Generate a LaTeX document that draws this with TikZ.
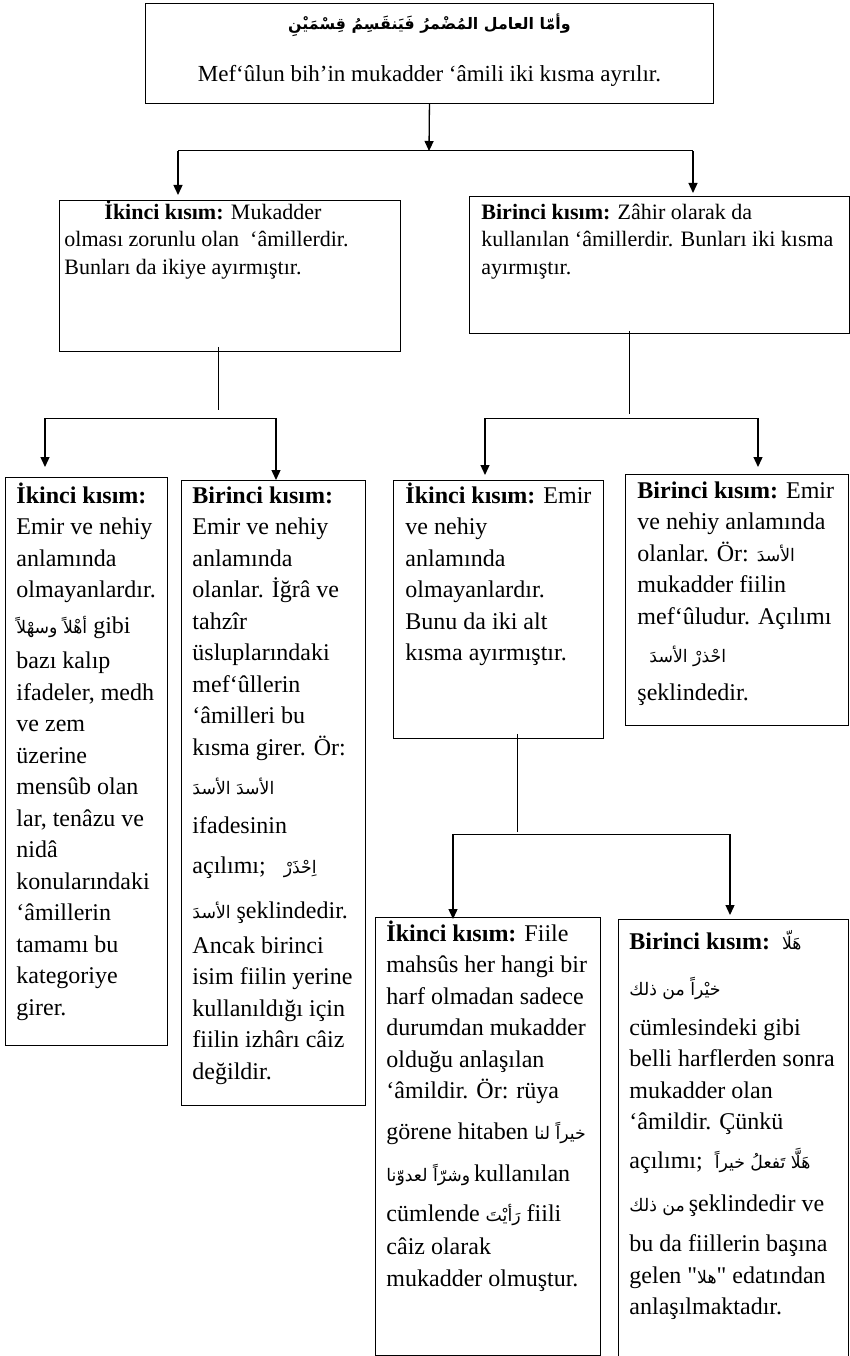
\documentclass[tikz,border=0pt]{standalone}
\usepackage{fontspec}
\setmainfont{Liberation Serif}
\newfontfamily\plainserif{Liberation Serif}
\newfontfamily\arfont[Script=Arabic,Scale=0.72]{DejaVu Sans}
\TeXXeTstate=1
\usetikzlibrary{arrows.meta,calc}
\newcommand{\AR}[1]{\mbox{\arfont\beginR #1\endR}}
\newcommand{\kb}[1]{\textbf{#1}}
\newcommand{\dq}{{\plainserif\symbol{34}}}
\newcommand{\bigtxt}{\fontsize{24}{31.5}\selectfont\lineskiplimit=-100pt\lineskip=0pt\raggedright\hbadness=10000\hfuzz=100pt}
\newcommand{\midtxt}{\fontsize{22}{27.5}\selectfont\lineskiplimit=-100pt\lineskip=0pt\raggedright\hbadness=10000\hfuzz=100pt}
\newcommand{\mybox}[7]{\node[box, inner xsep=#6pt] (#1) at (#2,#3) {\parbox[c][#5pt][t]{\dimexpr#4pt-#6pt-#6pt\relax}{#7}};}
\tikzset{
  box/.style={draw, line width=0.9pt, inner ysep=0pt, anchor=north west},
  ln/.style={line width=1pt},
  arr/.style={line width=1.3pt, -{Triangle[width=9pt,length=10pt]}}
}
\begin{document}
\begin{tikzpicture}[x=1pt,y=-1pt]
\useasboundingbox (0,0) rectangle (850,1356);

\mybox{top}{145}{3}{568}{100}{0}{\centering\fontsize{23}{52}\selectfont\lineskiplimit=-100pt\lineskip=0pt
\rule{0pt}{26pt}{\fontsize{22}{52}\selectfont\bfseries\AR{وأمّا العامل المُضْمرُ فَيَنقَسِمُ قِسْمَيْنِ}}\\
Mef‘ûlun bih’in mukadder ‘âmili iki kısma ayrılır.}

\mybox{L2L}{59}{200}{341}{151}{5}{\midtxt\rule{0pt}{19pt}\hspace*{40pt}\kb{İkinci kısım:} Mukadder\\
olması zorunlu olan\ \ ‘âmillerdir.\\
Bunları da ikiye ayırmıştır.}

\mybox{L2R}{469}{196}{380}{137}{12}{\midtxt\rule{0pt}{23pt}\kb{Birinci kısım:} Zâhir olarak da\\
kullanılan ‘âmillerdir. Bunları iki kısma\\
ayırmıştır.}

\mybox{A}{5}{477}{162}{568}{11}{\bigtxt\rule{0pt}{26pt}\kb{İkinci kısım:}\\
Emir ve nehiy\\
anlamında\\
olmayanlardır.\\[4.5pt]
\AR{أهْلاً وسهْلاً} gibi\\[3.5pt]
bazı kalıp\\
ifadeler, medh\\
ve zem\\
üzerine\\
mensûb olan\\
lar, tenâzu ve\\
nidâ\\
konularındaki\\
‘âmillerin\\
tamamı bu\\
kategoriye\\
girer.}

\mybox{B}{181}{480}{184}{625}{11}{\bigtxt\rule{0pt}{23pt}\kb{Birinci kısım:}\\
Emir ve nehiy\\
anlamında\\
olanlar. İğrâ ve\\
tahzîr\\
üsluplarındaki\\
mef‘ûllerin\\
‘âmilleri bu\\
kısma girer. Ör:\\[7.5pt]
\AR{الأسدَ الأسدَ}\\[7.5pt]
ifadesinin\\[8.5pt]
açılımı;\ \ \ \AR{اِحْذَرْ}\\[13.5pt]
\AR{الأسدَ} şeklindedir.\\[3.5pt]
Ancak birinci\\
isim fiilin yerine\\
kullanıldığı için\\
fiilin izhârı câiz\\
değildir.}

\mybox{C}{393}{480}{210}{258}{12}{\bigtxt\rule{0pt}{23pt}\kb{İkinci kısım:} Emir\\
ve nehiy\\
anlamında\\
olmayanlardır.\\
Bunu da iki alt\\
kısma ayırmıştır.}

\mybox{D}{625}{474}{223}{251}{12}{\bigtxt\rule{0pt}{24pt}\kb{Birinci kısım:} Emir\\
ve nehiy anlamında\\
olanlar. Ör: \AR{الأسدَ}\\
mukadder fiilin\\
mef‘ûludur. Açılımı\\[6.5pt]
\ \ \AR{احْذرْ الأسدَ}\\[6.5pt]
şeklindedir.}

\mybox{E}{375}{917}{225}{438}{11}{\bigtxt\rule{0pt}{24pt}\kb{İkinci kısım:} Fiile\\
mahsûs her hangi bir\\
harf olmadan sadece\\
durumdan mukadder\\
olduğu anlaşılan\\
‘âmildir. Ör: rüya\\[9.5pt]
görene hitaben\ \AR{خيراً لنا}\\[10.5pt]
\AR{وشرّاً لعدوّنا}\,kullanılan\\[8.5pt]
cümlende \AR{رَأيْتَ} fiili\\[1.5pt]
câiz olarak\\
mukadder olmuştur.}

\mybox{F}{618}{919}{230}{445}{11}{\bigtxt\rule{0pt}{30pt}\kb{Birinci kısım:}\ \ \AR{هَلّا}\\[14.5pt]
\AR{خيْراً من ذلك}\\[8.5pt]
cümlesindeki gibi\\
belli harflerden sonra\\
mukadder olan\\
‘âmildir. Çünkü\\[7.5pt]
açılımı;\ \ \AR{هَلَّا تَفعلُ خيراً}\\[11.5pt]
\AR{من ذلك}\,şeklindedir ve\\[8.5pt]
bu da fiillerin başına\\
gelen \dq\AR{هلا}\dq\ edatından\\
anlaşılmaktadır.}

% level 1 -> 2
\coordinate (c1) at (429,151);
\coordinate (c1l) at (178,151);
\coordinate (c1r) at (693,151);
\draw[arr] (top.south) -- (c1);
\draw[ln] (c1l) -- (c1r);
\draw[arr] (c1l) -- ($(c1l |- L2L.north)+(0,-5)$);
\draw[arr] (c1r) -- ($(c1r |- L2R.north)+(0,-3)$);

% left level 2 -> 3
\coordinate (c2) at (218,410);
\coordinate (c2l) at (45,418);
\coordinate (c2r) at (276,418);
\draw[ln] ($(c2 |- L2L.south)+(0,-5)$) -- (c2);
\draw[ln] (c2l) -- (c2r);
\draw[arr] (c2l) -- ($(c2l |- A.north)+(0,-10)$);
\draw[arr] (c2r) -- (c2r |- B.north);

% right level 2 -> 3
\coordinate (c3) at (629,414);
\coordinate (c3l) at (485,418);
\coordinate (c3r) at (758,418);
\draw[ln] ($(c3 |- L2R.south)+(0,-3)$) -- (c3);
\draw[ln] (c3l) -- (c3r);
\draw[arr] (c3l) -- ($(c3l |- C.north)+(0,-5)$);
\draw[arr] (c3r) -- ($(c3r |- D.north)+(0,-7)$);

% C -> E, F
\coordinate (c4) at (517,832);
\coordinate (c4l) at (453,834);
\coordinate (c4r) at (730,834);
\draw[ln] ($(c4 |- C.south)+(0,-5)$) -- (c4);
\draw[ln] (c4l) -- (c4r);
\draw[arr] (c4l) -- ($(c4l |- E.north)+(0,2)$);
\draw[arr] (c4r) -- ($(c4r |- F.north)+(0,-4)$);
\end{tikzpicture}
\end{document}
